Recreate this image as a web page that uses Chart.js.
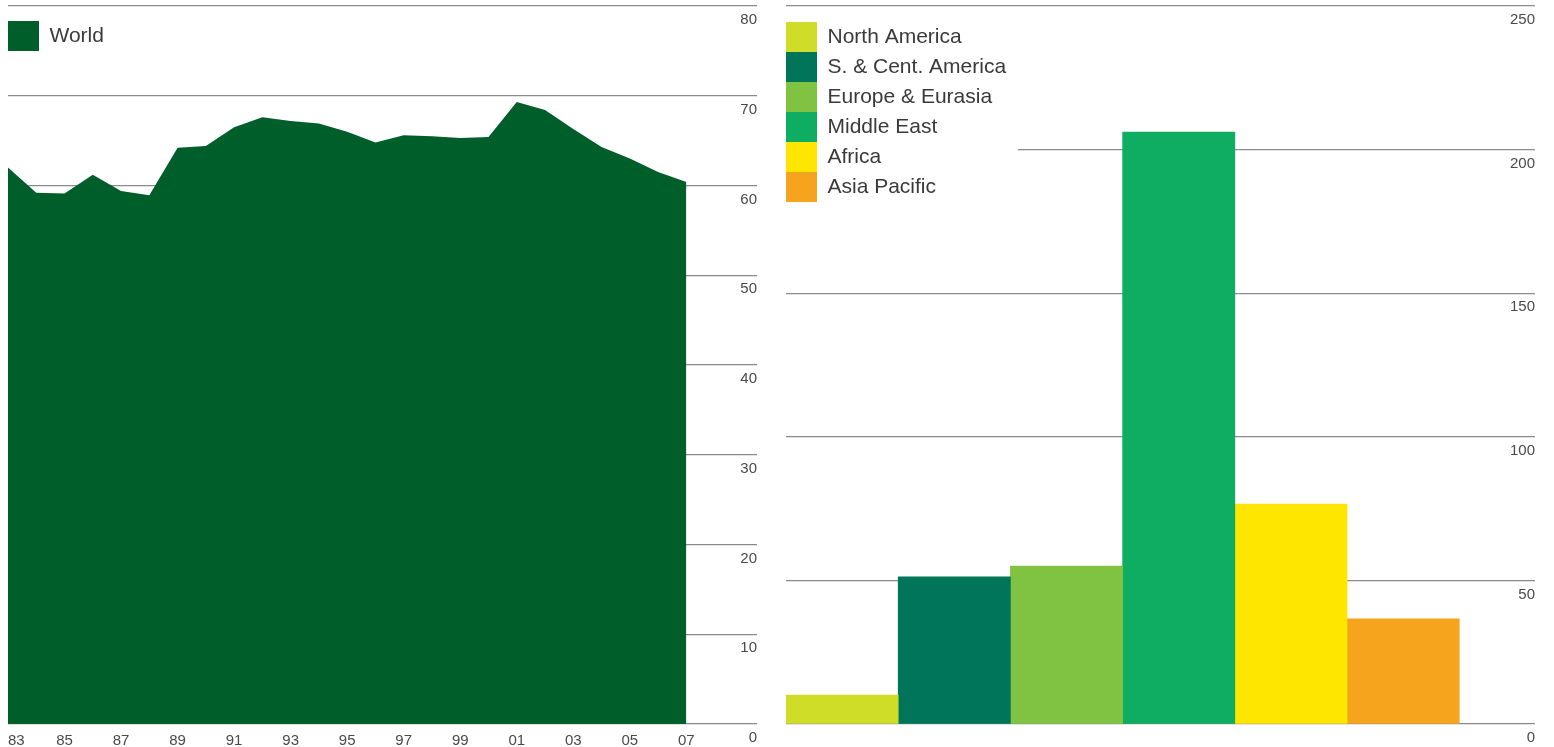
<!DOCTYPE html>
<html lang="en">
<head>
<meta charset="utf-8"/>
<title>Reserves-to-production ratios</title>
<script src="https://cdn.jsdelivr.net/npm/chart.js"></script>
<style>
html, body {
  margin: 0;
  padding: 0;
  background: #fff;
}
#wrap {
  position: relative;
  width: 1554px;
  height: 747px;
}
.box {
  position: absolute;
  top: 0;
  height: 747px;
}
#left_box {
  left: 0;
  width: 770px;
}
#right_box {
  left: 770px;
  width: 784px;
}
</style>
</head>
<body>
<div id="wrap">
  <div class="box" id="left_box"><canvas id="chart_world"></canvas></div>
  <div class="box" id="right_box"><canvas id="chart_regions"></canvas></div>
</div>
<script>
"use strict";
// world R/P history (years)
const years = [1983, 1984, 1985, 1986, 1987, 1988, 1989, 1990, 1991, 1992, 1993, 1994, 1995,
               1996, 1997, 1998, 1999, 2000, 2001, 2002, 2003, 2004, 2005, 2006, 2007];
const world = [62.0, 59.2, 59.1, 61.2, 59.4, 58.9, 64.2, 64.4, 66.5, 67.6, 67.2, 66.9, 66.0,
               64.8, 65.6, 65.5, 65.3, 65.4, 69.3, 68.4, 66.3, 64.3, 63.0, 61.5, 60.4];
const yearTicks = [1983, 1985, 1987, 1989, 1991, 1993, 1995, 1997, 1999, 2001, 2003, 2005, 2007];
const worldTicks = [0, 10, 20, 30, 40, 50, 60, 70, 80];

// 2007 by region
const regions = ["North America", "S. & Cent. America", "Europe & Eurasia", "Middle East", "Africa", "Asia Pacific"];
const regionValues = [10.1, 51.2, 55.0, 206.1, 76.6, 36.6];
const regionTicks = [0, 50, 100, 150, 200, 250];

const worldColor = "#005e2a";
const regionColors = ["#d0dd28", "#00755a", "#80c242", "#0ead62", "#ffe600", "#f6a41e"];

Chart.defaults.font.family = "'Liberation Sans', Arial, sans-serif";
Chart.defaults.color = "#4a4a4a";
Chart.defaults.animation = false;
Chart.defaults.maintainAspectRatio = false;
Chart.defaults.plugins.tooltip.enabled = false;

const gridColor = "#8a8a8a";

// white backing behind the legend, so gridlines do not run through it
const legendBackdrop = {
  id: "legendBackdrop",
  afterDatasetsDraw(chart){
    const legend = chart.legend;
    if(!legend || !legend.legendHitBoxes || !legend.legendHitBoxes.length){
      return;
    }
    const hb = legend.legendHitBoxes;
    const left = Math.min(...hb.map(b => b.left));
    const top = Math.min(...hb.map(b => b.top));
    const right = Math.max(...hb.map(b => b.left + b.width)) + 12;
    const bottom = Math.max(...hb.map(b => b.top + b.height));
    const ctx = chart.ctx;
    ctx.save();
    ctx.fillStyle = "#fff";
    ctx.fillRect(left, top, right - left, bottom - top);
    ctx.restore();
    legend.draw();
  }
};

function legendOptions(gap){
  return {
    position: "chartArea",
    align: "start",
    title: {
      display: true,
      text: "",
      font: {size: 10, lineHeight: gap + "px"},
      padding: 0
    },
    labels: {
      boxWidth: 31,
      boxHeight: 30,
      padding: 0,
      color: "#3a3a3a",
      font: {size: 21}
    }
  };
}

function yAxis(max, ticks){
  return {
    position: "right",
    min: 0,
    max: max,
    afterBuildTicks: (scale) => {
      scale.ticks = ticks.map(v => ({value: v}));
    },
    border: {display: false},
    grid: {
      color: gridColor,
      lineWidth: 1.2,
      drawTicks: false
    },
    ticks: {
      mirror: true,
      padding: 0,
      labelOffset: 14,
      font: {size: 15, lineHeight: 0.8},
      color: "#4a4a4a"
    }
  };
}

new Chart(document.getElementById("chart_world"), {
  type: "line",
  data: {
    datasets: [{
      label: "World",
      data: years.map((y, i) => ({x: y, y: world[i]})),
      backgroundColor: worldColor,
      borderColor: worldColor,
      borderWidth: 0,
      pointRadius: 0,
      tension: 0,
      fill: "origin"
    }]
  },
  options: {
    layout: {padding: {left: 8, right: 13, top: 6, bottom: -11}},
    plugins: {legend: legendOptions(21)},
    scales: {
      x: {
        type: "linear",
        min: 1983,
        max: 2009.5,
        afterBuildTicks: (scale) => {
          // odd years, plus a blank stop at the right end
          scale.ticks = yearTicks.map(v => ({value: v})).concat([{value: 2009.5}]);
        },
        border: {display: false},
        grid: {display: false, drawTicks: false},
        ticks: {
          align: "inner",
          padding: 8,
          maxRotation: 0,
          autoSkip: false,
          font: {size: 15},
          color: "#4a4a4a",
          callback: (v) => (v > 2007 ? "" : String(v).slice(2))
        }
      },
      y: yAxis(80, worldTicks)
    }
  },
  plugins: [legendBackdrop]
});

new Chart(document.getElementById("chart_regions"), {
  type: "bar",
  data: {
    datasets: regions.map((name, i) => ({
      label: name,
      data: [{x: i, y: regionValues[i]}],
      backgroundColor: regionColors[i],
      borderWidth: 0,
      grouped: false,
      barPercentage: 1,
      categoryPercentage: 1
    }))
  },
  options: {
    layout: {padding: {left: 16, right: 19, top: 6, bottom: 23}},
    plugins: {legend: legendOptions(22)},
    scales: {
      x: {
        type: "linear",
        min: -0.5,
        max: 6.175,
        offset: false,
        display: false,
        afterBuildTicks: (scale) => {
          scale.ticks = regions.map((r, i) => ({value: i}));
        }
      },
      y: yAxis(250, regionTicks)
    }
  },
  plugins: [legendBackdrop]
});
</script>
</body>
</html>
